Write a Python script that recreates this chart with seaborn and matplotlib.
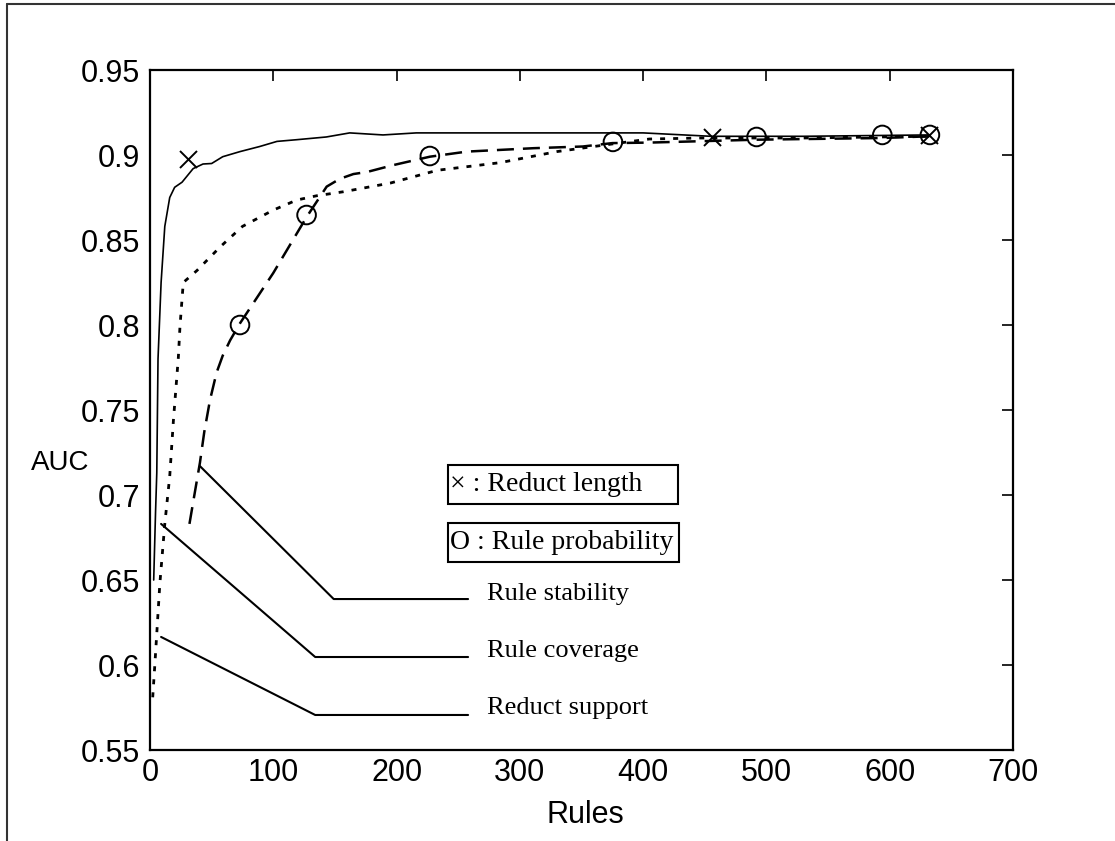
import matplotlib
matplotlib.use("Agg")
import matplotlib.pyplot as plt
from matplotlib.lines import Line2D
from matplotlib.patches import Rectangle
import seaborn as sns
import pandas as pd

# ---- data ----
support_x = [3, 4.5, 5.5, 6.5, 9, 12, 16, 20, 26, 35, 43, 50, 59, 73, 89, 103, 119, 143, 162, 189, 216, 300, 400, 455, 530, 632]
support_y = [0.650, 0.690, 0.713, 0.780, 0.825, 0.858, 0.875, 0.881, 0.884, 0.892, 0.8947, 0.895, 0.899, 0.902, 0.905, 0.908, 0.909, 0.9106, 0.913, 0.9118, 0.913, 0.913, 0.913, 0.911, 0.911, 0.9118]

coverage_x = [2.2, 4, 8, 12, 16, 19, 23, 24.3, 27, 38, 57, 75, 100, 119, 135, 157, 195, 233, 284, 330, 370, 405, 446, 530, 632]
coverage_y = [0.581, 0.601, 0.648, 0.683, 0.711, 0.744, 0.781, 0.799, 0.825, 0.832, 0.846, 0.858, 0.8676, 0.8735, 0.876, 0.8784, 0.8835, 0.891, 0.8955, 0.902, 0.906, 0.9094, 0.910, 0.910, 0.911]

stability_x = [32, 36, 40.5, 44, 48.7, 54, 59, 65, 73, 100, 127, 143.3, 154, 165, 176, 197, 227, 257, 311, 351, 375, 405, 492, 594, 632]
stability_y = [0.683, 0.700, 0.719, 0.737, 0.756, 0.772, 0.782, 0.791, 0.801, 0.8306, 0.8635, 0.8814, 0.886, 0.8888, 0.890, 0.894, 0.899, 0.902, 0.904, 0.905, 0.907, 0.9073, 0.909, 0.910, 0.911]

length_x = [30.8, 455.8, 632]
length_y = [0.8976, 0.9106, 0.9118]

prob_x = [73, 127, 227, 375.5, 492, 594, 632.6]
prob_y = [0.800, 0.8647, 0.8994, 0.9077, 0.9106, 0.9118, 0.9118]

x_ticks = [0, 100, 200, 300, 400, 500, 600, 700]
x_tick_labels = ["0", "100", "200", "300", "400", "500", "600", "700"]
y_ticks = [0.55, 0.60, 0.65, 0.70, 0.75, 0.80, 0.85, 0.90, 0.95]
y_tick_labels = ["0.55", "0.6", "0.65", "0.7", "0.75", "0.8", "0.85", "0.9", "0.95"]

# annotation leader lines (label, start point, elbow point, end x)
label_names = ["Rule stability", "Rule coverage", "Reduct support"]
leader_start = [(40.5, 0.717), (9, 0.683), (9, 0.6165)]
leader_elbow = [(149, 0.6388), (134, 0.6047), (134, 0.5706)]
leader_end_x = [258, 258, 258]
label_text_y = [0.6418, 0.6085, 0.5745]

# ---- style ----
sns.set_theme(style="white")
plt.rcParams["font.family"] = ["Liberation Sans", "DejaVu Sans"]
serif = ["Liberation Serif", "DejaVu Serif"]

fig = plt.figure(figsize=(11.15, 8.41), dpi=100)
ax = fig.add_axes([150 / 1115, 91 / 841, 863 / 1115, 680 / 841])

df_sup = pd.DataFrame({"x": support_x, "y": support_y})
df_cov = pd.DataFrame({"x": coverage_x, "y": coverage_y})
df_sta = pd.DataFrame({"x": stability_x, "y": stability_y})

sns.lineplot(data=df_sup, x="x", y="y", sort=False, ax=ax, color="black", lw=1.2, estimator=None)
sns.lineplot(data=df_cov, x="x", y="y", sort=False, ax=ax, color="black", lw=2.0,
             linestyle=(0, (1.8, 2.9)), estimator=None)
sns.lineplot(data=df_sta, x="x", y="y", sort=False, ax=ax, color="black", lw=1.8,
             linestyle=(0, (6.8, 3.6)), estimator=None)

sns.scatterplot(x=length_x, y=length_y, ax=ax, marker="x", s=150, color="black", linewidth=1.4, zorder=5)
sns.scatterplot(x=prob_x, y=prob_y, ax=ax, marker="o", s=180, facecolor="none", edgecolor="black",
                linewidth=1.4, zorder=5)

# leader lines and labels
for name, st, el, ex, ty in zip(label_names, leader_start, leader_elbow, leader_end_x, label_text_y):
    ax.plot([st[0], el[0], ex], [st[1], el[1], el[1]], color="black", lw=1.5)
    ax.text(273, ty, name, family=serif, fontsize=19, va="center", ha="left", color="black")

# boxed legend texts
ax.add_patch(Rectangle((241.7, 0.6947), 186.5, 0.0229, fill=False, edgecolor="black", lw=1.5))
ax.add_patch(Rectangle((241.7, 0.6606), 187.5, 0.0229, fill=False, edgecolor="black", lw=1.5))
ax.text(243, 0.7062, "\u00d7 : Reduct length", family=serif, fontsize=20,
        va="center", ha="left", color="black")
ax.text(243, 0.6721, "O : Rule probability", family=serif, fontsize=20,
        va="center", ha="left", color="black")

ax.set_xlim(0, 700)
ax.set_ylim(0.55, 0.95)
ax.set_xticks(x_ticks)
ax.set_xticklabels(x_tick_labels)
ax.set_yticks(y_ticks)
ax.set_yticklabels(y_tick_labels)
ax.tick_params(direction="in", length=8, width=1.2, top=True, right=True,
               labelsize=22, colors="black", pad=7)
ax.tick_params(axis="x", pad=6)
for s in ax.spines.values():
    s.set_visible(True)
    s.set_color("black")
    s.set_linewidth(1.6)
ax.grid(False)
ax.set_facecolor("white")

ax.set_xlabel("")
ax.set_ylabel("")
ax.text(-0.1045, 0.422, "AUC", transform=ax.transAxes, fontsize=20, ha="center", va="center", color="black")
ax.text(0.504, -0.0955, "Rules", transform=ax.transAxes, fontsize=22, ha="center", va="center", color="black")

# figure border (top and left)
fig.add_artist(Line2D([7 / 1115, 7 / 1115], [0, 1 - 4 / 841], transform=fig.transFigure, color="#333333", lw=1.5))
fig.add_artist(Line2D([7 / 1115, 1], [1 - 4 / 841, 1 - 4 / 841], transform=fig.transFigure, color="#333333", lw=1.5))

fig.savefig("out.png", dpi=100, facecolor="white")
